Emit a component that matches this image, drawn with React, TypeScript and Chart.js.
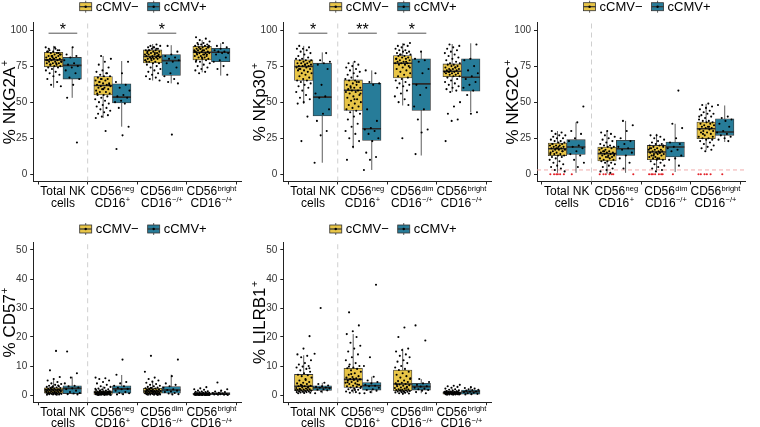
import React, { useEffect, useRef } from "react";
import { Chart, registerables } from "chart.js";
Chart.register(...registerables);

// ---------------- DATA ----------------
const groups = ["cCMV−", "cCMV+"];
const xLine1 = [["Total NK", ""], ["CD56", "neg"], ["CD56", "dim"], ["CD56", "bright"]];
const xLine2 = [["cells", ""], ["CD16", "+"], ["CD16", "−/+"], ["CD16", "−/+"]];
const yTicksPct = [0, 25, 50, 75, 100];
const yTicksLow = [0, 10, 20, 30, 40, 50];

// box stats per category: [lower whisker, Q1, median, Q3, upper whisker]
const nkg2aBoxNeg = [[60, 74.5, 79.3, 84.5, 89], [39, 55, 61.5, 67.7, 82], [65, 77.2, 81.6, 86.2, 90.3], [70.7, 79.3, 84.6, 88.7, 93]];
const nkg2aBoxPos = [[53, 66, 75.5, 81, 88], [33, 49.5, 53.5, 62.7, 78.5], [63, 68.5, 78.8, 83, 89.5], [68.4, 78, 84.6, 87.3, 90.8]];
const nkg2aPtsNeg = [
  [88, 87, 86, 86, 85, 85, 84, 84, 83, 83, 82, 82, 82, 81, 81, 80, 80, 80, 79, 79, 79, 78, 78, 78, 77, 77, 77, 76, 76, 75, 75, 74, 74, 73, 72, 71, 70, 69, 68, 66, 64, 62, 61, 88, 87, 84, 81, 79, 77, 76, 83, 80, 85, 86, 82, 78],
  [82, 80, 78, 76, 74, 72, 71, 70, 69, 68, 68, 67, 66, 66, 65, 65, 64, 63, 63, 62, 62, 61, 61, 60, 60, 59, 59, 58, 57, 57, 56, 55, 55, 54, 53, 52, 51, 50, 49, 48, 47, 46, 45, 44, 43, 42, 41, 40, 39, 30, 64, 62, 59, 56, 70, 66],
  [90, 89, 89, 88, 88, 87, 87, 86, 86, 86, 85, 85, 84, 84, 84, 83, 83, 83, 82, 82, 82, 81, 81, 81, 80, 80, 80, 79, 79, 78, 78, 77, 77, 76, 75, 74, 73, 72, 71, 70, 69, 68, 67, 66, 65, 88, 85, 82, 80, 79, 84, 86, 83, 81, 78, 87],
  [95, 94, 93, 92, 91, 91, 90, 90, 89, 89, 88, 88, 88, 87, 87, 87, 86, 86, 86, 85, 85, 85, 84, 84, 84, 83, 83, 83, 82, 82, 81, 81, 80, 80, 79, 79, 78, 77, 76, 75, 74, 73, 72, 71, 70, 89, 86, 84, 82, 87, 85, 83, 90, 88, 81, 78],
];
const nkg2aPtsPos = [
  [88, 83, 82, 81, 79, 77, 76, 75, 74, 72, 70, 67, 66, 62, 53, 22],
  [78, 70, 64, 62, 60, 58, 55, 54, 53, 51, 50, 49, 46, 33, 27, 17.5],
  [89, 85, 83, 82, 81, 80, 79, 78, 77, 74, 70, 68, 66, 64, 63, 27.5],
  [91, 89, 88, 87, 86, 85, 85, 84, 84, 83, 81, 79, 78, 75, 73, 69],
];

const nkp30BoxNeg = [[48.8, 65, 74.7, 79.3, 89], [18, 44.2, 58.3, 65.4, 77.6], [47.7, 66.8, 77, 82.3, 90.8], [57, 67.7, 71.4, 76.5, 90.3]];
const nkp30BoxPos = [[8, 40.5, 53.5, 77, 84.5], [3, 23.5, 31.6, 63, 72], [13, 44.2, 62.7, 80, 84.6], [43, 57.6, 67.3, 80, 90.8]];
const nkp30PtsNeg = [
  [89, 88, 87, 87, 86, 85, 84, 83, 82, 81, 80, 80, 79, 79, 78, 78, 77, 77, 77, 76, 76, 75, 75, 75, 74, 74, 73, 73, 72, 72, 71, 70, 70, 69, 68, 67, 66, 65, 65, 64, 63, 62, 61, 60, 58, 57, 55, 53, 52, 50, 49, 40, 23, 79, 76, 73],
  [78, 77, 76, 75, 74, 73, 72, 71, 70, 69, 68, 67, 66, 65, 65, 64, 63, 62, 62, 61, 60, 60, 59, 58, 58, 57, 57, 56, 55, 54, 53, 52, 51, 50, 49, 48, 47, 46, 45, 44, 43, 42, 40, 38, 35, 33, 30, 28, 25, 23, 19, 10, 64, 60, 56, 52],
  [91, 90, 89, 89, 88, 87, 86, 86, 85, 85, 84, 84, 83, 83, 82, 82, 81, 81, 80, 80, 79, 79, 78, 78, 77, 77, 77, 76, 76, 75, 74, 73, 72, 71, 70, 69, 68, 67, 66, 65, 64, 63, 62, 61, 60, 58, 56, 54, 52, 50, 48, 25, 80, 78, 83, 74],
  [90, 89, 88, 87, 86, 85, 84, 83, 82, 81, 80, 79, 78, 77, 77, 76, 76, 75, 75, 74, 74, 73, 73, 73, 72, 72, 72, 71, 71, 71, 70, 70, 70, 69, 69, 68, 68, 67, 66, 65, 64, 63, 62, 61, 60, 59, 58, 57, 50, 47, 42, 38, 37, 23, 74, 71],
];
const nkp30PtsPos = [
  [84, 79, 78, 77, 76, 73, 62, 56, 54, 53, 45, 42, 37, 30, 27, 8],
  [72, 70, 64, 63, 62, 45, 37, 32, 31, 30, 28, 25, 23, 15, 12, 10, 3],
  [85, 80, 79, 78, 73, 70, 62, 60, 55, 47, 45, 38, 31, 29, 14],
  [90, 80, 79, 75, 72, 70, 68, 66, 64, 62, 60, 58, 55, 43, 42],
];

const nkg2cBoxNeg = [[1, 12.9, 17.7, 21.7, 30], [0.5, 9.2, 14.3, 18.9, 30], [2.8, 10.1, 15.4, 20, 28], [16.6, 24.7, 31.6, 36.2, 48.8]];
const nkg2cBoxPos = [[1, 13.8, 18.9, 24, 36], [1, 13.1, 17.7, 23.5, 37], [1.6, 12, 18.9, 22.4, 35], [22.4, 27, 29.3, 38.5, 47.7]];
const nkg2cPtsNeg = [
  [0, 0, 0, 0, 0, 0, 30, 29, 28, 27, 27, 26, 25, 25, 24, 23, 23, 22, 22, 21, 21, 20, 20, 20, 19, 19, 18, 18, 18, 17, 17, 17, 16, 16, 15, 15, 14, 14, 13, 13, 12, 12, 11, 10, 9, 8, 7, 6, 5, 4, 3, 2, 19, 21, 16, 18, 14],
  [0, 0, 0, 0, 0, 0, 30, 29, 28, 27, 26, 25, 24, 23, 22, 21, 20, 20, 19, 19, 18, 18, 17, 17, 16, 16, 15, 15, 15, 14, 14, 14, 13, 13, 12, 12, 11, 11, 10, 10, 9, 9, 8, 8, 7, 6, 5, 4, 3, 2, 1, 16, 13, 12],
  [0, 0, 0, 0, 0, 0, 0, 27, 27, 26, 25, 24, 23, 22, 21, 21, 20, 20, 19, 19, 18, 18, 17, 17, 17, 16, 16, 16, 15, 15, 15, 14, 14, 14, 13, 13, 12, 12, 11, 11, 10, 10, 9, 8, 7, 6, 5, 4, 3, 2, 18, 15, 13, 20, 11],
  [0, 0, 0, 0, 0, 49, 48, 47, 46, 45, 44, 43, 42, 42, 41, 40, 39, 38, 37, 37, 36, 36, 35, 35, 34, 34, 33, 33, 32, 32, 31, 31, 30, 30, 29, 29, 28, 27, 26, 25, 25, 24, 24, 23, 22, 21, 20, 19, 18, 17, 16, 40, 33, 28, 26],
];
const nkg2cPtsPos = [
  [47, 36, 30, 28, 25, 23, 20, 19, 18, 16, 14, 13, 10, 8, 5, 0],
  [37, 34, 30, 25, 23, 21, 19, 18, 17, 15, 13, 11, 8, 4, 0],
  [58, 35, 32, 25, 22, 21, 19, 18, 17, 16, 13, 11, 10, 6, 0],
  [48, 40, 39, 38, 37, 35, 33, 30, 29, 28, 27, 26, 25, 24, 23, 0],
];
const nkg2cThreshold = 3;

const cd57BoxNeg = [[0, 0.6, 1.7, 2.5, 5.7], [0, 0.2, 0.9, 1.4, 3], [0, 0.6, 1.4, 2.3, 4.6], [0, 0, 0.35, 0.6, 1.3]];
const cd57BoxPos = [[0.2, 0.5, 2.3, 3.2, 6.3], [0.2, 0.6, 2.1, 3.2, 6.9], [0.2, 0.6, 1.7, 2.9, 7], [0, 0.1, 0.45, 0.8, 1.5]];
const cd57PtsNeg = [
  [15.2, 8.5, 6.2, 5.5, 5, 4.5, 4, 3.8, 3.5, 3.2, 3, 3, 2.8, 2.6, 2.5, 2.4, 2.2, 2.1, 2, 2, 1.9, 1.8, 1.7, 1.7, 1.6, 1.5, 1.4, 1.3, 1.2, 1.1, 1, 1, 0.9, 0.8, 0.8, 0.7, 0.6, 0.6, 0.5, 0.5, 0.4, 0.4, 0.3, 0.3, 0.2, 0.2, 0.1, 0.1, 2.3, 1.5, 1, 0.7, 3.3, 2.7, 1.2, 0.5],
  [6, 5.8, 5.5, 5, 4.5, 4, 3.5, 3, 2.8, 2.5, 2.2, 2, 1.9, 1.7, 1.5, 1.4, 1.3, 1.2, 1.1, 1, 1, 0.9, 0.9, 0.8, 0.8, 0.7, 0.7, 0.6, 0.6, 0.5, 0.5, 0.4, 0.4, 0.3, 0.3, 0.3, 0.2, 0.2, 0.2, 0.1, 0.1, 0.1, 0, 0, 0, 1.2, 0.9, 0.6, 0.4, 1.6, 1, 0.5, 0.2, 0.8, 0.3, 2.1],
  [13.5, 8, 6, 5.5, 5, 4.6, 4.2, 3.8, 3.5, 3.2, 3, 2.8, 2.6, 2.4, 2.3, 2.2, 2, 1.9, 1.8, 1.7, 1.6, 1.5, 1.4, 1.4, 1.3, 1.2, 1.1, 1, 1, 0.9, 0.8, 0.8, 0.7, 0.7, 0.6, 0.6, 0.5, 0.5, 0.4, 0.4, 0.3, 0.3, 0.2, 0.2, 0.1, 0.1, 0, 1.5, 1.2, 0.9, 2.1, 0.6, 1, 1.7, 0.3, 2.5],
  [2.7, 2.3, 2, 1.8, 1.5, 1.3, 1.2, 1.1, 1, 0.9, 0.8, 0.8, 0.7, 0.7, 0.6, 0.6, 0.5, 0.5, 0.5, 0.4, 0.4, 0.4, 0.4, 0.3, 0.3, 0.3, 0.3, 0.3, 0.2, 0.2, 0.2, 0.2, 0.2, 0.1, 0.1, 0.1, 0.1, 0.1, 0, 0, 0, 0, 0, 0, 0, 0.5, 0.3, 0.2, 0.4, 0.6, 0.1, 0.3, 0.2, 0, 0.4, 0.1],
];
const cd57PtsPos = [
  [15, 7.5, 6, 4, 3.2, 3, 2.6, 2.3, 2, 1.5, 1, 0.7, 0.5, 0.3, 0.2],
  [12.2, 7, 4.5, 4, 3.2, 3, 2.5, 2.1, 2, 1.5, 1, 0.7, 0.6, 0.3, 0.2],
  [12.2, 6.5, 4, 3.5, 3, 2.5, 2, 1.7, 1.5, 1.2, 1, 0.7, 0.5, 0.3, 0.2],
  [4.3, 2, 1.5, 1.2, 1, 0.8, 0.7, 0.5, 0.4, 0.3, 0.3, 0.2, 0.1, 0.1, 0],
];

const lilrb1BoxNeg = [[0.5, 1.5, 3, 7.1, 13.7], [0.6, 2.6, 5.4, 9.2, 21], [0.4, 1.5, 3.8, 8.6, 16], [0.1, 0.3, 0.8, 1.1, 2.2]];
const lilrb1BoxPos = [[0.6, 1.6, 2.5, 3.2, 4.2], [0.6, 1.7, 3.2, 4.3, 6.3], [0.6, 1.7, 2.9, 4, 5.5], [0.2, 0.3, 1.1, 1.7, 2.7]];
const lilrb1PtsNeg = [
  [20.3, 16, 14, 13.5, 13, 12, 11, 10.5, 10, 9.8, 9.5, 9, 8.5, 8, 7.5, 7, 6.8, 6.5, 6, 5.5, 5, 4.5, 4.2, 4, 3.8, 3.5, 3.2, 3, 3, 2.8, 2.6, 2.4, 2.2, 2, 2, 1.9, 1.8, 1.7, 1.6, 1.5, 1.4, 1.3, 1.2, 1.1, 1, 1, 0.9, 0.8, 0.7, 0.6, 2.5, 3.3, 1.7, 5.2, 2.1, 9.2],
  [28.5, 24, 22, 21, 20, 18, 17, 16, 15, 14, 13, 12, 11, 10.5, 10, 9.5, 9.2, 9, 8.5, 8, 7.5, 7, 6.5, 6.2, 6, 5.8, 5.5, 5.4, 5.2, 5, 4.8, 4.5, 4.2, 4, 3.8, 3.5, 3.2, 3, 2.8, 2.6, 2.4, 2.2, 2, 1.8, 1.5, 1.2, 1, 0.8, 0.6, 5.6, 4.4, 3.6, 7.2, 2.9, 1.7, 9.8],
  [23.3, 20, 16, 15.5, 15, 14, 13.5, 13, 12, 11.5, 11, 10, 9.5, 9, 8.6, 8, 7.5, 7, 6.5, 6, 5.5, 5, 4.8, 4.5, 4.2, 4, 3.8, 3.6, 3.4, 3.2, 3, 2.8, 2.6, 2.4, 2.2, 2, 1.9, 1.8, 1.7, 1.6, 1.5, 1.4, 1.3, 1.2, 1.1, 1, 0.9, 0.8, 0.6, 0.5, 0.4, 3.5, 2.5, 1.6, 5.8, 1],
  [3.5, 3.2, 3, 2.8, 2.5, 2.2, 2, 1.8, 1.6, 1.5, 1.4, 1.3, 1.2, 1.1, 1.1, 1, 1, 1, 0.9, 0.9, 0.9, 0.8, 0.8, 0.8, 0.8, 0.7, 0.7, 0.7, 0.6, 0.6, 0.6, 0.5, 0.5, 0.5, 0.4, 0.4, 0.4, 0.3, 0.3, 0.3, 0.2, 0.2, 0.2, 0.1, 0.1, 1.2, 0.9, 0.7, 0.5, 1, 0.8, 0.6, 1.3, 0.4],
];
const lilrb1PtsPos = [
  [30, 14.2, 4.2, 3.8, 3.3, 3, 2.8, 2.6, 2.5, 2.3, 2, 1.8, 1.6, 1.2, 0.6],
  [38, 13, 10, 6.3, 5, 4.5, 4, 3.5, 3.2, 3, 2.5, 2, 1.7, 1.5, 1, 0.6],
  [24, 18.8, 5.5, 4.5, 4, 3.5, 3, 2.9, 2.5, 2.2, 2, 1.7, 1.5, 1, 0.6],
  [2.7, 2.4, 2.2, 2, 1.8, 1.7, 1.5, 1.2, 1.1, 1, 0.8, 0.6, 0.4, 0.3, 0.2],
];

// significance brackets: category (1-based), label
const nkg2aSigCats = [1, 3];
const nkg2aSigLabels = ["*", "*"];
const nkp30SigCats = [1, 2, 3];
const nkp30SigLabels = ["*", "**", "*"];
const sigLevel = 97.8;

// ---------------- STYLE ----------------
const FONT = "'Liberation Sans', Arial, Helvetica, sans-serif";
const YELLOW = "#E8C547";
const BLUE = "#277C99";
const DODGE = 0.1875;
const JITTER = 0.16;

type PanelCfg = {
  key: string;
  title: string;
  sup: string;
  boxNeg: number[][];
  boxPos: number[][];
  ptsNeg: number[][];
  ptsPos: number[][];
  yMin: number;
  yMax: number;
  yTicks: number[];
  sigCats: number[];
  sigLabels: string[];
  threshold: number | null;
  left: number;
  top: number;
  width: number;
  height: number;
  yW: number;
  padTop: number;
  xH: number;
  legendY: number;
  titleOff: number;
};

const panels: PanelCfg[] = [
  { key: "a", title: "% NKG2A", sup: "+", boxNeg: nkg2aBoxNeg, boxPos: nkg2aBoxPos, ptsNeg: nkg2aPtsNeg, ptsPos: nkg2aPtsPos, yMin: -5, yMax: 105, yTicks: yTicksPct, sigCats: nkg2aSigCats, sigLabels: nkg2aSigLabels, threshold: null, left: 0, top: 0, width: 252, height: 213, yW: 33.2, padTop: 22.8, xH: 31.5, legendY: 6.7, titleOff: 24 },
  { key: "b", title: "% NKp30", sup: "+", boxNeg: nkp30BoxNeg, boxPos: nkp30BoxPos, ptsNeg: nkp30PtsNeg, ptsPos: nkp30PtsPos, yMin: -5, yMax: 105, yTicks: yTicksPct, sigCats: nkp30SigCats, sigLabels: nkp30SigLabels, threshold: null, left: 252, top: 0, width: 250, height: 213, yW: 31.3, padTop: 22.8, xH: 31.5, legendY: 6.7, titleOff: 24 },
  { key: "c", title: "% NKG2C", sup: "+", boxNeg: nkg2cBoxNeg, boxPos: nkg2cBoxPos, ptsNeg: nkg2cPtsNeg, ptsPos: nkg2cPtsPos, yMin: -5, yMax: 105, yTicks: yTicksPct, sigCats: [], sigLabels: [], threshold: nkg2cThreshold, left: 502, top: 0, width: 254, height: 213, yW: 35, padTop: 22.8, xH: 31.5, legendY: 6.7, titleOff: 25 },
  { key: "d", title: "% CD57", sup: "+", boxNeg: cd57BoxNeg, boxPos: cd57BoxPos, ptsNeg: cd57PtsNeg, ptsPos: cd57PtsPos, yMin: -2.5, yMax: 52.5, yTicks: yTicksLow, sigCats: [], sigLabels: [], threshold: null, left: 0, top: 213, width: 252, height: 214, yW: 33.2, padTop: 29.75, xH: 24.75, legendY: 16, titleOff: 24 },
  { key: "e", title: "% LILRB1", sup: "+", boxNeg: lilrb1BoxNeg, boxPos: lilrb1BoxPos, ptsNeg: lilrb1PtsNeg, ptsPos: lilrb1PtsPos, yMin: -2.5, yMax: 52.5, yTicks: yTicksLow, sigCats: [], sigLabels: [], threshold: null, left: 252, top: 213, width: 250, height: 214, yW: 31.3, padTop: 29.75, xH: 24.75, legendY: 16, titleOff: 24 },
];

function jitterOffset(i: number, g: number, c: number, p: number) {
  const f = (i * 0.6180339887 + c * 0.371 + g * 0.529 + p * 0.217) % 1;
  return (f - 0.5) * 2 * JITTER;
}

function drawRich(ctx: CanvasRenderingContext2D, base: string, sup: string, cx: number, baseline: number, size: number, supSize: number, rise: number) {
  ctx.font = `${size}px ${FONT}`;
  const w1 = ctx.measureText(base).width;
  ctx.font = `${supSize}px ${FONT}`;
  const w2 = sup ? ctx.measureText(sup).width + 0.4 : 0;
  const start = cx - (w1 + w2) / 2;
  ctx.textAlign = "left";
  ctx.textBaseline = "alphabetic";
  ctx.font = `${size}px ${FONT}`;
  ctx.fillText(base, start, baseline);
  if (sup) {
    ctx.font = `${supSize}px ${FONT}`;
    ctx.fillText(sup, start + w1 + 0.4, baseline - rise);
  }
}

function drawLegendKey(ctx: CanvasRenderingContext2D, x: number, cy: number, color: string) {
  const w = 12, h = 8;
  ctx.strokeStyle = "#333";
  ctx.lineWidth = 0.8;
  ctx.beginPath();
  ctx.moveTo(x + w / 2, cy - h / 2 - 2);
  ctx.lineTo(x + w / 2, cy + h / 2 + 2);
  ctx.stroke();
  ctx.fillStyle = color;
  ctx.fillRect(x, cy - h / 2, w, h);
  ctx.strokeRect(x, cy - h / 2, w, h);
  ctx.lineWidth = 1.2;
  ctx.beginPath();
  ctx.moveTo(x, cy);
  ctx.lineTo(x + w, cy);
  ctx.stroke();
  ctx.fillStyle = "#000";
  ctx.beginPath();
  ctx.arc(x + w / 2, cy, 1.2, 0, Math.PI * 2);
  ctx.fill();
}

function Panel({ cfg, pIndex }: { cfg: PanelCfg; pIndex: number }) {
  const ref = useRef<HTMLCanvasElement | null>(null);
  useEffect(() => {
    if (!ref.current) return;
    const ds: any[] = [];
    // separator
    ds.push({ type: "scatter", data: [{ x: 1.5, y: cfg.yMin }, { x: 1.5, y: cfg.yMax }], showLine: true, borderColor: "#cfcfcf", borderWidth: 1, borderDash: [5, 4], pointRadius: 0, order: 20 });
    if (cfg.threshold !== null) {
      ds.push({ type: "scatter", data: [{ x: 0.4, y: cfg.threshold }, { x: 4.6, y: cfg.threshold }], showLine: true, borderColor: "#eea3a3", borderWidth: 0.9, borderDash: [4, 3], pointRadius: 0, order: 19 });
    }
    const sets = [
      { box: cfg.boxNeg, pts: cfg.ptsNeg, color: YELLOW, off: -DODGE },
      { box: cfg.boxPos, pts: cfg.ptsPos, color: BLUE, off: DODGE },
    ];
    sets.forEach((s, g) => {
      const wd: any[] = [];
      s.box.forEach((b, c) => {
        const x = c + 1 + s.off;
        wd.push({ x, y: b[0] }, { x, y: b[4] }, { x, y: null });
      });
      ds.push({ type: "scatter", label: groups[g] + " whiskers", data: wd, showLine: true, spanGaps: false, borderColor: "#333", borderWidth: 0.8, pointRadius: 0, order: 15 });
      ds.push({ type: "bar", label: groups[g], data: s.box.map((b, c) => ({ x: c + 1 + s.off, y: [b[1], b[3]] })), backgroundColor: s.color, borderColor: "#3a3a3a", borderWidth: 0.8, borderSkipped: false, barThickness: 18.5, grouped: false, order: 12 });
      ds.push({ type: "scatter", label: groups[g] + " median", data: s.box.map((b, c) => ({ x: c + 1 + s.off, y: b[2] })), pointStyle: "line", pointRadius: 9.25, borderColor: "#2a2a2a", borderWidth: 1.6, order: 10 });
    });
    sets.forEach((s, g) => {
      const pd: any[] = [];
      const cols: string[] = [];
      s.pts.forEach((arr, c) => {
        arr.forEach((v, i) => {
          pd.push({ x: c + 1 + s.off + jitterOffset(i, g, c, pIndex), y: v });
          cols.push(cfg.threshold !== null && v === 0 ? "#e3242b" : "#000");
        });
      });
      ds.push({ type: "scatter", label: groups[g] + " points", data: pd, pointRadius: 1.05, pointBackgroundColor: cols, pointBorderWidth: 0, borderWidth: 0, order: 5 });
    });
    // significance bars
    const sd: any[] = [];
    cfg.sigCats.forEach((c) => {
      sd.push({ x: c - 0.29, y: sigLevel }, { x: c + 0.29, y: sigLevel }, { x: c, y: null });
    });
    if (sd.length) ds.push({ type: "scatter", data: sd, showLine: true, spanGaps: false, borderColor: "#555", borderWidth: 1, pointRadius: 0, order: 4 });

    const textPlugin = {
      id: "texts" + cfg.key,
      afterDraw(chart: any) {
        const ctx: CanvasRenderingContext2D = chart.ctx;
        const ca = chart.chartArea;
        const xs = chart.scales.x;
        const ys = chart.scales.y;
        ctx.save();
        ctx.fillStyle = "#000";
        // y title
        ctx.save();
        ctx.translate(ca.left - cfg.titleOff, (ca.top + ca.bottom) / 2);
        ctx.rotate(-Math.PI / 2);
        drawRich(ctx, cfg.title, cfg.sup, 0, 6, 17, 10.5, 7);
        ctx.restore();
        // x labels
        ctx.fillStyle = "#000";
        for (let c = 0; c < 4; c++) {
          const px = xs.getPixelForValue(c + 1);
          drawRich(ctx, xLine1[c][0], xLine1[c][1], px, ca.bottom + 13.5, 12, 7.5, 4.5);
          drawRich(ctx, xLine2[c][0], xLine2[c][1], px, ca.bottom + 25, 12, 7.5, 4.5);
        }
        // stars
        cfg.sigCats.forEach((c, k) => {
          ctx.font = `16px ${FONT}`;
          ctx.textAlign = "center";
          ctx.textBaseline = "alphabetic";
          ctx.fillStyle = "#000";
          ctx.fillText(cfg.sigLabels[k], xs.getPixelForValue(c), ys.getPixelForValue(sigLevel) + 1.5);
        });
        // legend
        ctx.font = `13px ${FONT}`;
        const t1 = ctx.measureText(groups[0]).width;
        const t2 = ctx.measureText(groups[1]).width;
        const kw = 12, gap = 4, sep = 9;
        const total = kw + gap + t1 + sep + kw + gap + t2;
        let lx = (ca.left + ca.right) / 2 + 6 - total / 2;
        const ly = cfg.legendY;
        drawLegendKey(ctx, lx, ly, YELLOW);
        ctx.fillStyle = "#000";
        ctx.font = `13px ${FONT}`;
        ctx.textAlign = "left";
        ctx.textBaseline = "middle";
        ctx.fillText(groups[0], lx + kw + gap, ly + 0.5);
        lx += kw + gap + t1 + sep;
        drawLegendKey(ctx, lx, ly, BLUE);
        ctx.fillStyle = "#000";
        ctx.font = `13px ${FONT}`;
        ctx.textAlign = "left";
        ctx.textBaseline = "middle";
        ctx.fillText(groups[1], lx + kw + gap, ly + 0.5);
        ctx.restore();
      },
    };

    const chart = new Chart(ref.current, {
      type: "scatter",
      data: { datasets: ds },
      options: {
        responsive: false,
        maintainAspectRatio: false,
        animation: false,
        events: [],
        layout: { padding: { top: cfg.padTop, left: 0, right: 0, bottom: 0 } },
        plugins: { legend: { display: false }, tooltip: { enabled: false }, title: { display: false } },
        scales: {
          x: {
            type: "linear",
            min: 0.4,
            max: 4.6,
            offset: false,
            afterBuildTicks: (s: any) => { s.ticks = [1, 2, 3, 4].map((v) => ({ value: v })); },
            afterFit: (s: any) => { s.height = cfg.xH; },
            ticks: { display: false },
            grid: { display: true, drawOnChartArea: false, drawTicks: true, tickLength: 3, color: "#222" },
            border: { display: true, color: "#222", width: 1 },
          },
          y: {
            type: "linear",
            min: cfg.yMin,
            max: cfg.yMax,
            afterBuildTicks: (s: any) => { s.ticks = cfg.yTicks.map((v) => ({ value: v })); },
            afterFit: (s: any) => { s.width = cfg.yW; },
            ticks: { font: { family: FONT, size: 10 }, color: "#333", padding: 3 },
            grid: { display: true, drawOnChartArea: false, drawTicks: true, tickLength: 3, color: "#222" },
            border: { display: true, color: "#222", width: 1 },
          },
        },
      } as any,
      plugins: [textPlugin],
    });
    return () => chart.destroy();
  }, [cfg, pIndex]);

  return (
    <canvas
      ref={ref}
      width={cfg.width}
      height={cfg.height}
      style={{ position: "absolute", left: cfg.left, top: cfg.top, width: cfg.width, height: cfg.height }}
    />
  );
}

export default function App() {
  return (
    <div style={{ position: "fixed", left: 0, top: 0, width: 760, height: 427, background: "#fff", overflow: "hidden" }}>
      {panels.map((p, i) => (
        <Panel key={p.key} cfg={p} pIndex={i} />
      ))}
    </div>
  );
}
